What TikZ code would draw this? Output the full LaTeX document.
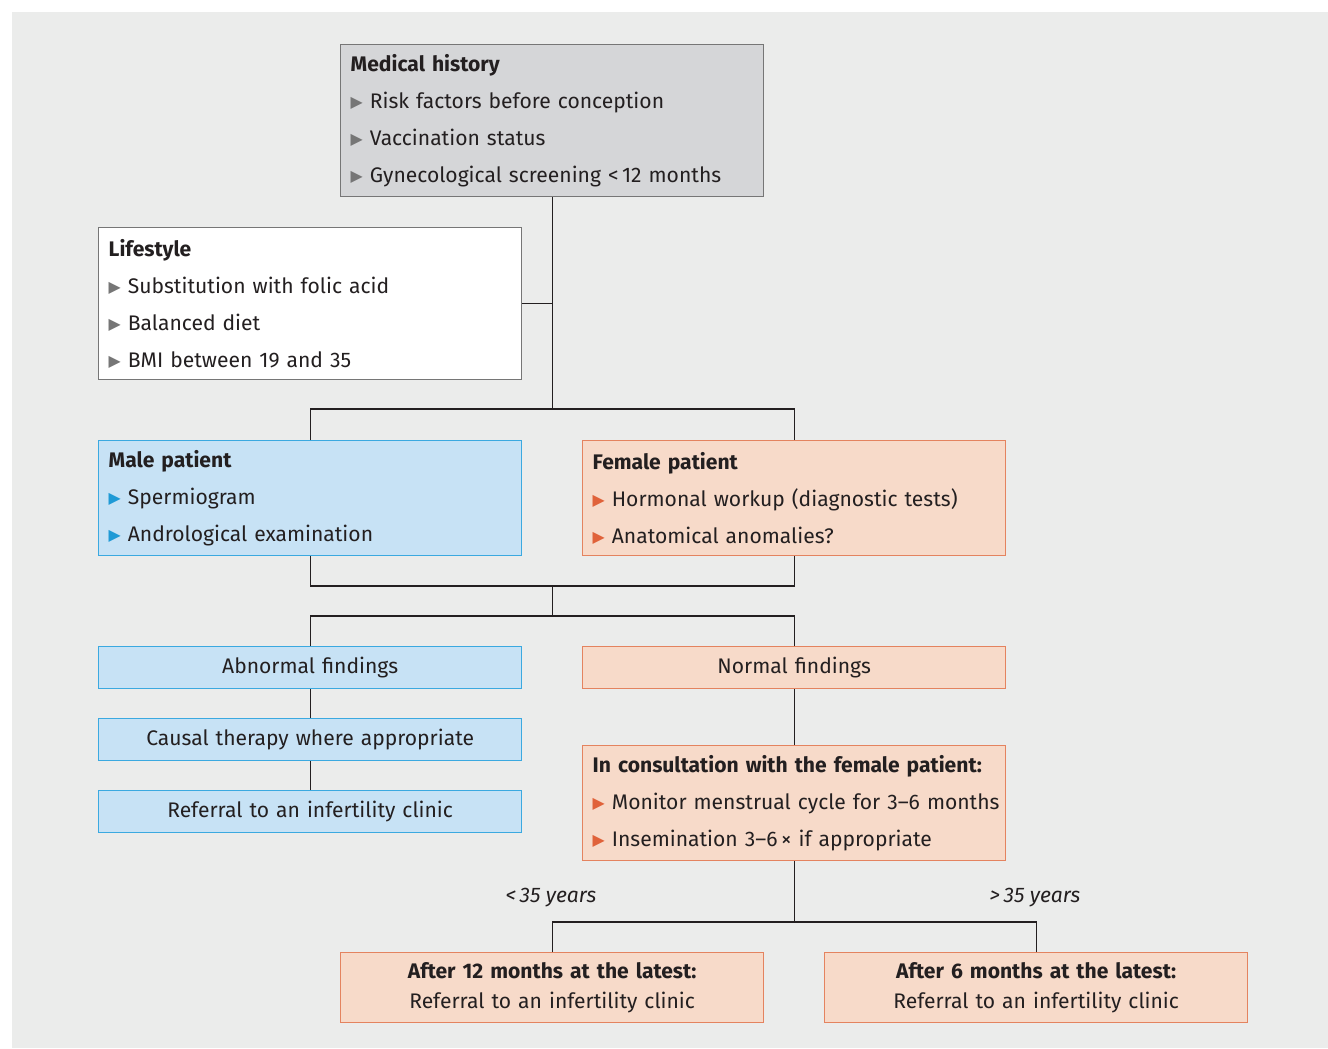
\documentclass[tikz,border=0pt]{standalone}
\usepackage{fontspec}
\usepackage{xcolor}
\setmainfont{Fira Sans}
\newfontfamily\symfont{DejaVu Sans}
\definecolor{bgcol}{HTML}{EBECEB}
\definecolor{grayfill}{HTML}{D5D6D8}
\definecolor{grayline}{HTML}{767676}
\definecolor{bluefill}{HTML}{C7E2F5}
\definecolor{blueline}{HTML}{3BA9E0}
\definecolor{bluetri}{HTML}{1F9AD6}
\definecolor{orfill}{HTML}{F7DAC9}
\definecolor{orline}{HTML}{E4835F}
\definecolor{ortri}{HTML}{E0623A}
\definecolor{ink}{HTML}{231F20}
\newcommand{\itm}[1]{\textcolor{#1}{\raisebox{0.1ex}{\scalebox{0.75}{\symfont ▶}}}\hspace{0.14cm}}

\begin{document}
\begin{tikzpicture}
            [x=0.02cm, y=-0.02cm,
            every node/.style={rectangle, text=ink, font=\fontsize{12}{21}\selectfont},
            box/.style={draw, line width=0.8pt, anchor=north west, minimum width=8.46cm,
                inner xsep=0.2cm, text width=8.06cm},
            listbox/.style={box, align=left},
            onebox/.style={box, align=center, minimum height=0.84cm},
            graybox/.style={fill=grayfill, draw=grayline},
            whitebox/.style={fill=white, draw=grayline},
            bluebox/.style={fill=bluefill, draw=blueline},
            orbox/.style={fill=orfill, draw=orline},
            agelabel/.style={font=\fontsize{12}{14}\selectfont\itshape},
            link/.style={draw=ink, line width=0.6pt}]

            \useasboundingbox (0,0) rectangle (1328,1048);
            \fill[bgcol] (12,12) rectangle (1328,1048);

            \node[listbox, graybox, minimum height=3.04cm] (hist) at (340,44)
                {\textbf{Medical history}\\
                 \itm{grayline}Risk factors before conception\\
                 \itm{grayline}Vaccination status\\
                 \itm{grayline}Gynecological screening <\,12 months};
            \node[listbox, whitebox, minimum height=3.04cm] (life) at (98,227)
                {\textbf{Lifestyle}\\
                 \itm{grayline}Substitution with folic acid\\
                 \itm{grayline}Balanced diet\\
                 \itm{grayline}BMI between 19 and 35};
            \node[listbox, bluebox, minimum height=2.3cm] (male) at (98,440)
                {\textbf{Male patient}\\
                 \itm{bluetri}Spermiogram\\
                 \itm{bluetri}Andrological examination};
            \node[listbox, orbox, minimum height=2.3cm] (female) at (582,440)
                {\textbf{Female patient}\\
                 \itm{ortri}Hormonal workup (diagnostic tests)\\
                 \itm{ortri}Anatomical anomalies?};
            \node[onebox, bluebox] (abn) at (98,646) {Abnormal findings};
            \node[onebox, orbox] (norm) at (582,646) {Normal findings};
            \node[onebox, bluebox] (caus) at (98,718) {Causal therapy where appropriate};
            \node[onebox, bluebox] (refm) at (98,790) {Referral to an infertility clinic};
            \node[listbox, orbox, minimum height=2.3cm] (cons) at (582,745)
                {\mbox{\textbf{In consultation with the female patient:}}\\
                 \mbox{\itm{ortri}Monitor menstrual cycle for 3–6 months}\\
                 \mbox{\itm{ortri}Insemination 3–6\,×\ if appropriate}};
            \node[box, orbox, align=center, minimum height=1.4cm,
                font=\fontsize{12}{17}\selectfont] (late) at (340,952)
                {\textbf{After 12 months at the latest:}\\Referral to an infertility clinic};
            \node[box, orbox, align=center, minimum height=1.4cm,
                font=\fontsize{12}{17}\selectfont] (early) at (824,952)
                {\textbf{After 6 months at the latest:}\\Referral to an infertility clinic};

            \node[agelabel] (young) at (551,898) {<\,35 years};
            \node[agelabel] (old) at (1035,898) {>\,35 years};

            \coordinate (top) at (hist.south |- 0,409);
            \coordinate (mid) at (hist.south |- 0,586);
            \coordinate (split) at (hist.south |- 0,616);
            \coordinate (age) at (cons.south |- 0,922);

            \draw[link] (hist.south) -- (top);
            \draw[link] (life.east) -- (life.east -| top);
            \draw[link] (male.north) |- (top) -| (female.north);
            \draw[link] (male.south) |- (mid) -| (female.south);
            \draw[link] (mid) -- (split);
            \draw[link] (abn.north) |- (split) -| (norm.north);
            \draw[link] (abn) -- (caus);
            \draw[link] (caus) -- (refm);
            \draw[link] (norm) -- (cons);
            \draw[link] (cons.south) -- (age);
            \draw[link] (late.north) |- (age) -| (early.north);
\end{tikzpicture}
\end{document}
